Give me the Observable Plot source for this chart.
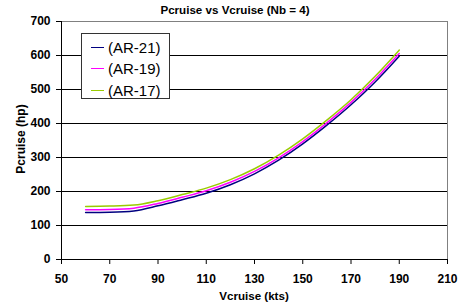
<!DOCTYPE html>
<html><head><meta charset="utf-8">
<script src="https://cdn.jsdelivr.net/npm/d3@7"></script>
<script src="https://cdn.jsdelivr.net/npm/@observablehq/plot@0.6"></script>
<style>
body{margin:0;background:#fff;font-family:Arial,"Liberation Sans",sans-serif;}
#wrap{position:relative;width:460px;height:306px;}
.ttl{position:absolute;font-weight:bold;font-size:11.6px;white-space:nowrap;}
#title{left:0;width:470px;top:3px;text-align:center;}
#xlab{left:61px;width:386px;top:289px;text-align:center;}
#ylab{left:21px;top:139px;font-size:12px;transform:translate(-50%,-50%) rotate(-90deg);}
#legend{position:absolute;left:81px;top:33px;width:89px;height:66px;border:1px solid #333;background:#fff;box-sizing:border-box;font-size:15px;}
.item{position:absolute;left:9px;height:20px;display:flex;align-items:center;}
.sw{width:13px;height:0;border-top:1.5px solid;margin-right:4px;}
</style></head>
<body><div id="wrap">
<div id="title" class="ttl">Pcruise vs Vcruise (Nb = 4)</div>
<div id="xlab" class="ttl">Vcruise (kts)</div>
<div id="ylab" class="ttl">Pcruise (hp)</div>
</div>
<script>
const speeds = [60,70,80,90,100,110,120,130,140,150,160,170,180,190];
const ar21 = [138,139,143,158,176,195,220,252,292,340,395,455,522,598];
const ar19 = [146,147,151,165,183,202,227,259,299,347,402,462,530,606];
const ar17 = [156,157,160,173,191,210,235,267,307,355,410,470,539,616];
const seriesNames = ["(AR-21)","(AR-19)","(AR-17)"];
const seriesColors = ["#000080","#FF00FF","#99CC00"];
const xTicks = [50,70,90,110,130,150,170,190,210];
const yTicks = [0,100,200,300,400,500,600,700];

const vals = [ar21, ar19, ar17];
const data = [];
vals.forEach((arr, s) => arr.forEach((v, i) => data.push({series: seriesNames[s], x: speeds[i], y: v})));

const chart = Plot.plot({
  width: 460, height: 306,
  marginLeft: 61, marginRight: 13, marginTop: 21, marginBottom: 47,
  style: {fontFamily: "Arial, 'Liberation Sans', sans-serif", fontSize: "12px", fontWeight: "bold", color: "#000", background: "#fff"},
  x: {domain: [50, 210]},
  y: {domain: [0, 700]},
  color: {domain: seriesNames, range: seriesColors},
  marks: [
    Plot.gridY(yTicks, {stroke: "#000", strokeOpacity: 1}),
    Plot.frame({stroke: "#808080"}),
    Plot.axisX(xTicks, {tickSize: 5, tickPadding: 10, label: null, fontSize: 12, fontWeight: "bold", fill: "#000"}),
    Plot.axisY(yTicks, {tickSize: 5, tickPadding: 6, label: null, fontSize: 12, fontWeight: "bold", fill: "#000"}),
    Plot.line(data, {x: "x", y: "y", z: "series", stroke: "series", strokeWidth: 1.5, curve: "monotone-x"}),
    Plot.ruleX([50], {stroke: "#000"}),
    Plot.ruleY([0], {stroke: "#000"})
  ]
});
d3.select(chart).selectAll("text")
  .style("font-size", "12px").style("font-weight", "700").style("fill", "#000");
const wrap = document.getElementById("wrap");
wrap.insertBefore(chart, wrap.firstChild);
const lg = document.createElement("div");
lg.id = "legend";
seriesNames.forEach((n, i) => {
  const it = document.createElement("div");
  it.className = "item";
  it.style.top = (3 + i * 21.5) + "px";
  const sw = document.createElement("div");
  sw.className = "sw";
  sw.style.borderTopColor = seriesColors[i];
  const t = document.createElement("span");
  t.textContent = n;
  it.appendChild(sw); it.appendChild(t);
  lg.appendChild(it);
});
wrap.appendChild(lg);
</script></body></html>
